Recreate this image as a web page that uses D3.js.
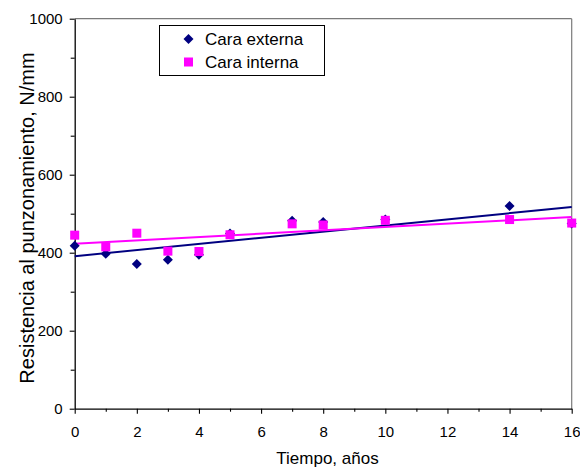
<!DOCTYPE html>
<html>
<head>
<meta charset="utf-8">
<script src="https://cdn.jsdelivr.net/npm/d3@7"></script>
<style>
html,body{margin:0;padding:0;background:#fff;}
svg{display:block;font-family:Arial,"Liberation Sans",sans-serif;}
</style>
</head>
<body>
<svg id="chart" width="580" height="468"></svg>
<script>
const years = [0, 1, 2, 3, 4, 5, 7, 8, 10, 14, 16];
const caraExterna = [418, 397, 371, 382, 395, 449, 482, 479, 485, 520, 475];
const caraInterna = [445, 415, 450, 404, 403, 446, 474, 471, 483, 485, 476];
const seriesNames = ["Cara externa", "Cara interna"];
const xTicks = [0, 2, 4, 6, 8, 10, 12, 14, 16];
const xMinorTicks = [1, 3, 5, 7, 9, 11, 13, 15];
const yTicks = [0, 200, 400, 600, 800, 1000];
const yMinorTicks = [100, 300, 500, 700, 900];
const xTitle = "Tiempo, años";
const yTitle = "Resistencia al punzonamiento, N/mm";

const svg = d3.select("#chart");
const L = 74.7, R = 571.7, T = 18.7, B = 408.7;
const x = d3.scaleLinear().domain([0, 16]).range([L, R]);
const y = d3.scaleLinear().domain([0, 1000]).range([B, T]);

// plot frame top/right
svg.append("line").attr("x1", L).attr("x2", R).attr("y1", T).attr("y2", T)
  .attr("stroke", "#7a7a7a").attr("stroke-width", 1.2);
svg.append("line").attr("x1", R).attr("x2", R).attr("y1", T).attr("y2", B)
  .attr("stroke", "#7a7a7a").attr("stroke-width", 1.2);

// axes
const xAxis = svg.append("g").attr("transform", `translate(0,${B})`)
  .call(d3.axisBottom(x).tickValues(xTicks).tickSize(5).tickSizeOuter(0).tickPadding(13).tickFormat(d3.format("d")));
const xMinor = svg.append("g").attr("transform", `translate(0,${B})`)
  .call(d3.axisBottom(x).tickValues(xMinorTicks).tickSize(3).tickSizeOuter(0).tickFormat(""));
xMinor.select(".domain").remove();
const yAxis = svg.append("g").attr("transform", `translate(${L},0)`)
  .call(d3.axisLeft(y).tickValues(yTicks).tickSize(5).tickSizeOuter(0).tickPadding(7).tickFormat(d3.format("d")));
const yMinor = svg.append("g").attr("transform", `translate(${L},0)`)
  .call(d3.axisLeft(y).tickValues(yMinorTicks).tickSize(4).tickSizeOuter(0).tickFormat(""));
yMinor.select(".domain").remove();
svg.selectAll(".domain").attr("stroke", "#000").attr("stroke-width", 1.3);
svg.selectAll(".tick line").attr("stroke", "#000").attr("stroke-width", 1.1);
svg.selectAll(".tick text").attr("font-size", 15).attr("font-family", "Arial,'Liberation Sans',sans-serif").attr("fill", "#000");

// trend lines (least squares)
function fit(xs, ys) {
  const n = xs.length, mx = d3.mean(xs), my = d3.mean(ys);
  let sxy = 0, sxx = 0;
  for (let i = 0; i < n; i++) { sxy += (xs[i]-mx)*(ys[i]-my); sxx += (xs[i]-mx)**2; }
  const m = sxy / sxx; return { m, b: my - m*mx };
}
const colors = ["#000080", "#ff00ff"];
[caraExterna, caraInterna].forEach((vals, i) => {
  const f = fit(years, vals);
  svg.append("line")
    .attr("x1", x(0)).attr("y1", y(f.b))
    .attr("x2", x(16)).attr("y2", y(f.b + f.m*16))
    .attr("stroke", colors[i]).attr("stroke-width", 2);
});

// markers
const diamond = s => `M0,${-s}L${s},0L0,${s}L${-s},0Z`;
svg.append("g").selectAll("path").data(years.map((d, i) => [d, caraExterna[i]])).join("path")
  .attr("d", diamond(5)).attr("transform", d => `translate(${x(d[0])},${y(d[1])})`)
  .attr("fill", colors[0]);
svg.append("g").selectAll("rect").data(years.map((d, i) => [d, caraInterna[i]])).join("rect")
  .attr("x", d => x(d[0]) - 4.5).attr("y", d => y(d[1]) - 4.5)
  .attr("width", 9).attr("height", 9).attr("fill", colors[1]);

// legend
const lg = svg.append("g");
lg.append("rect").attr("x", 159.5).attr("y", 25.5).attr("width", 165).attr("height", 50)
  .attr("fill", "#fff").attr("stroke", "#000").attr("stroke-width", 1);
lg.append("path").attr("d", diamond(5)).attr("transform", "translate(188.5,39)").attr("fill", colors[0]);
lg.append("rect").attr("x", 184).attr("y", 57.5).attr("width", 9).attr("height", 9).attr("fill", colors[1]);
seriesNames.forEach((n, i) => {
  lg.append("text").attr("x", 205).attr("y", 45 + i*22.5).attr("font-size", 17).attr("fill", "#000").text(n);
});

// titles
svg.append("text").attr("x", 327.5).attr("y", 464).attr("text-anchor", "middle")
  .attr("font-size", 17).attr("fill", "#000").text(xTitle);
svg.append("text").attr("transform", "translate(33.5,218) rotate(-90)").attr("text-anchor", "middle")
  .attr("font-size", 20).attr("fill", "#000").text(yTitle);
</script>
</body>
</html>
